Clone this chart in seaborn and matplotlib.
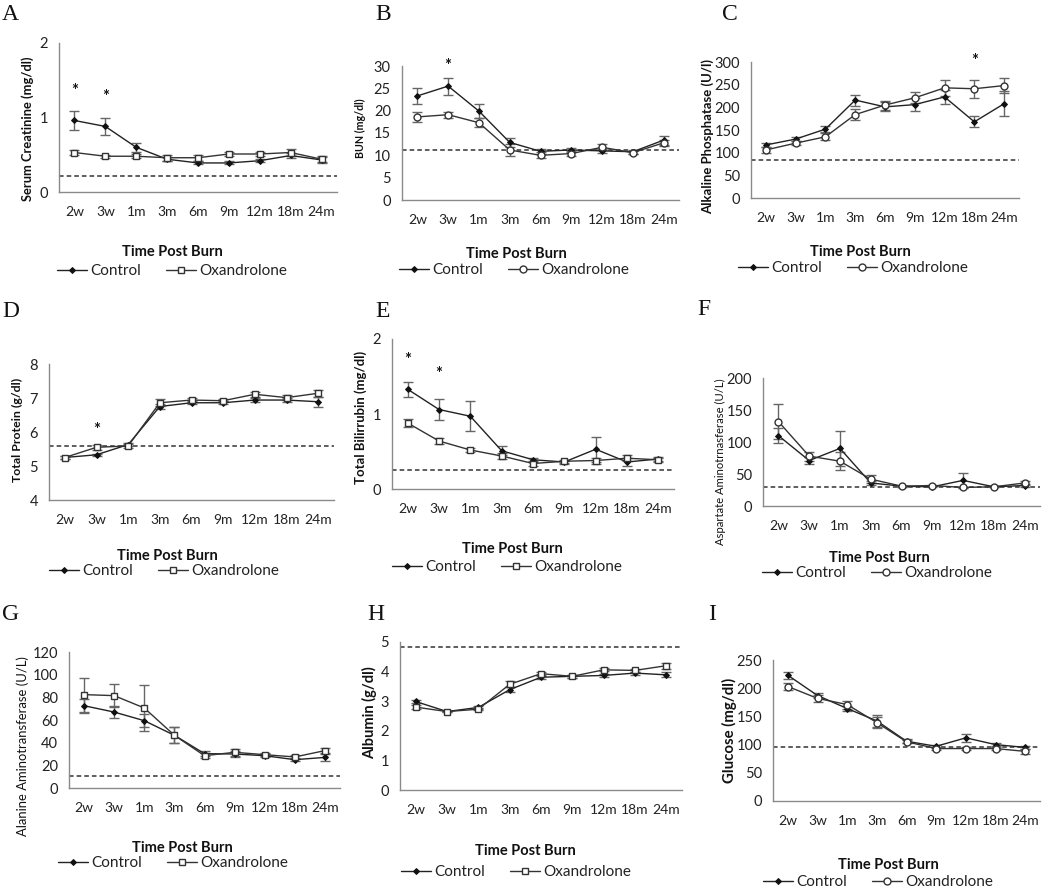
"""Serum chemistry over time post burn - control vs oxandrolone, 3x3 panels."""

import numpy as np
import pandas as pd
import matplotlib
matplotlib.use('Agg')
import matplotlib.pyplot as plt
import seaborn as sns

sns.set_style("white")
plt.rcParams['font.family'] = ['Lato', 'DejaVu Sans']

W, H = 1050, 891

timepoints = ['2w', '3w', '1m', '3m', '6m', '9m', '12m', '18m', '24m']

# A - serum creatinine
creat_ctrl = [0.96, 0.88, 0.60, 0.44, 0.39, 0.39, 0.42, 0.49, 0.43]
creat_ctrl_se = [0.13, 0.12, 0.06, 0.03, 0.02, 0.02, 0.02, 0.03, 0.04]
creat_oxa = [0.53, 0.48, 0.48, 0.46, 0.46, 0.51, 0.51, 0.53, 0.44]
creat_oxa_se = [0.03, 0.02, 0.03, 0.04, 0.04, 0.03, 0.03, 0.05, 0.04]

# B - BUN
bun_ctrl = [23.3, 25.5, 19.9, 12.9, 10.9, 11.2, 11.0, 10.8, 13.4]
bun_ctrl_se = [1.8, 1.9, 1.5, 1.0, 0.5, 0.4, 0.5, 0.4, 1.0]
bun_oxa = [18.6, 19.1, 17.3, 11.2, 10.0, 10.4, 11.8, 10.6, 12.8]
bun_oxa_se = [1.2, 0.7, 1.0, 1.4, 0.7, 0.5, 0.7, 0.4, 0.7]

# C - alkaline phosphatase
alp_ctrl = [117, 130, 152, 216, 201, 206, 223, 168, 208]
alp_ctrl_se = [5, 4, 7, 12, 10, 15, 15, 12, 27]
alp_oxa = [106, 121, 135, 184, 205, 221, 243, 241, 248]
alp_oxa_se = [7, 5, 8, 12, 10, 12, 17, 20, 17]

# D - total protein
prot_ctrl = [5.25, 5.33, 5.63, 6.75, 6.86, 6.86, 6.94, 6.94, 6.89]
prot_ctrl_se = [0.03, 0.03, 0.04, 0.08, 0.05, 0.05, 0.06, 0.07, 0.15]
prot_oxa = [5.25, 5.55, 5.59, 6.86, 6.94, 6.92, 7.11, 7.01, 7.14]
prot_oxa_se = [0.04, 0.07, 0.05, 0.10, 0.06, 0.05, 0.07, 0.07, 0.10]

# E - total bilirubin
bili_ctrl = [1.33, 1.06, 0.97, 0.51, 0.39, 0.36, 0.53, 0.36, 0.40]
bili_ctrl_se = [0.10, 0.14, 0.20, 0.06, 0.03, 0.02, 0.17, 0.05, 0.03]
bili_oxa = [0.88, 0.64, 0.52, 0.44, 0.34, 0.37, 0.38, 0.41, 0.39]
bili_oxa_se = [0.05, 0.04, 0.03, 0.04, 0.03, 0.02, 0.04, 0.04, 0.03]

# F - AST
ast_ctrl = [110, 71, 90, 36, 31, 30, 40, 30, 32]
ast_ctrl_se = [12, 5, 27, 3, 1, 1, 12, 1, 2]
ast_oxa = [132, 78, 70, 42, 31, 32, 29, 30, 36]
ast_oxa_se = [28, 7, 14, 6, 1, 1, 1, 1, 3]

# G - ALT
alt_ctrl = [72.6, 67, 59.4, 46.5, 30.3, 30, 28.5, 25, 27]
alt_ctrl_se = [6, 5, 6, 7, 2, 3, 1.5, 1.5, 3]
alt_oxa = [82.4, 81.5, 70.6, 46.5, 28.5, 31.5, 29.4, 27.4, 33]
alt_oxa_se = [15, 10, 20, 7, 2, 3, 1.5, 1.5, 2]

# H - albumin
alb_ctrl = [2.99, 2.65, 2.79, 3.39, 3.81, 3.84, 3.87, 3.95, 3.89]
alb_ctrl_se = [0.05, 0.03, 0.04, 0.08, 0.05, 0.04, 0.05, 0.05, 0.08]
alb_oxa = [2.80, 2.65, 2.73, 3.57, 3.93, 3.84, 4.06, 4.04, 4.20]
alb_oxa_se = [0.07, 0.03, 0.04, 0.10, 0.05, 0.04, 0.05, 0.05, 0.10]

# I - glucose
glu_ctrl = [223, 187, 164, 142, 106, 97, 112, 100, 95]
glu_ctrl_se = [6, 5, 4, 10, 4, 3, 7, 3, 2]
glu_oxa = [203, 182, 171, 139, 105, 93, 93, 93, 88]
glu_oxa_se = [7, 6, 7, 10, 3, 3, 2, 2, 4]

panel_letters = ['A', 'B', 'C', 'D', 'E', 'F', 'G', 'H', 'I']
y_labels = ['Serum Creatinine (mg/dl)', 'BUN (mg/dl)', 'Alkaline Phosphatase (U/l)',
            'Total Protein (g/dl)', 'Total Bilirrubin (mg/dl)',
            'Aspartate Aminotrnasferase (U/L)', 'Alanine Aminotransferase (U/L)',
            'Albumin (g/dl)', 'Glucose (mg/dl)']
normal_ref = [0.22, 11.2, 83, 5.6, 0.25, 30, 10.3, 4.83, 96]
y_ranges = [(0, 2, 1), (0, 30, 5), (0, 300, 50), (4, 8, 1), (0, 2, 1),
            (0, 200, 50), (0, 120, 20), (0, 5, 1), (0, 250, 50)]
# significance asterisks: (timepoint index, y value)
stars = [[(0, 1.35), (1, 1.28)], [(1, 30.1)], [(7, 303)], [(1, 6.06)],
         [(0, 1.72), (1, 1.53)], [], [], [], []]

series = [
    (creat_ctrl, creat_ctrl_se, creat_oxa, creat_oxa_se),
    (bun_ctrl, bun_ctrl_se, bun_oxa, bun_oxa_se),
    (alp_ctrl, alp_ctrl_se, alp_oxa, alp_oxa_se),
    (prot_ctrl, prot_ctrl_se, prot_oxa, prot_oxa_se),
    (bili_ctrl, bili_ctrl_se, bili_oxa, bili_oxa_se),
    (ast_ctrl, ast_ctrl_se, ast_oxa, ast_oxa_se),
    (alt_ctrl, alt_ctrl_se, alt_oxa, alt_oxa_se),
    (alb_ctrl, alb_ctrl_se, alb_oxa, alb_oxa_se),
    (glu_ctrl, glu_ctrl_se, glu_oxa, glu_oxa_se),
]

# --- layout (pixels) ---
axes_box = [(59, 43, 337, 192), (402, 66, 679, 200), (751, 62, 1019, 198),
            (49, 364, 334, 500), (392, 339, 674, 489), (763, 378, 1040, 506),
            (69, 652, 340, 788), (400, 642, 682, 790), (773, 660, 1040, 801)]
letter_pos = [(2, 20), (375, 20), (722, 20), (2, 317), (375, 317), (697, 315),
              (2, 620), (367, 620), (708, 620)]
ylabel_pos = [(28, 129), (360, 128), (708, 136), (17, 430), (361, 417),
              (720, 462), (23, 746), (370, 713), (729, 730)]
ylabel_len = [145, 60, 155, 105, 133, 167, 180, 93, 105]
ylabel_bold = [True, True, True, True, True, False, False, True, True]
xlabel_pos = [(172, 252), (516, 254), (860, 252), (167, 556), (512, 549),
              (879, 558), (182, 848), (525, 851), (888, 865)]
legend_pos = [(172, 271), (514, 270), (853, 268), (164, 571), (507, 567),
              (877, 573), (173, 863), (516, 872), (878, 882)]
oxa_marker = ['s', 'o', 'o', 's', 's', 'o', 's', 's', 'o']

AXIS_GRAY = '#8a8a8a'
fig = plt.figure(figsize=(W / 100, H / 100), dpi=100)
renderer = fig.canvas.get_renderer()


def fx(px):
    return px / W


def fy(py):
    return 1 - py / H


xs = np.arange(len(timepoints))

for i in range(9):
    x0, yt, x1, yb = axes_box[i]
    ax = fig.add_axes([fx(x0), fy(yb), (x1 - x0) / W, (yb - yt) / H])
    ctrl, ctrl_se, oxa, oxa_se = series[i]
    df = pd.DataFrame({'pos': xs, 'ctrl': ctrl, 'oxa': oxa})

    ax.errorbar(xs, oxa, yerr=oxa_se, fmt='none', ecolor='#666666',
                elinewidth=1, capsize=3.5, capthick=1, zorder=2)
    ax.errorbar(xs, ctrl, yerr=ctrl_se, fmt='none', ecolor='#666666',
                elinewidth=1, capsize=3.5, capthick=1, zorder=2)
    sns.lineplot(data=df, x='pos', y='ctrl', ax=ax, color='#222222', lw=1,
                 marker='D', ms=3, mfc='#111111', mec='#111111',
                 errorbar=None, label='Control', zorder=3)
    sns.lineplot(data=df, x='pos', y='oxa', ax=ax, color='#333333', lw=1,
                 marker=oxa_marker[i], ms=5, mfc='white', mec='#333333',
                 mew=1, errorbar=None, label='Oxandrolone', zorder=4)

    ax.axhline(normal_ref[i], color='#333333', ls=(0, (3, 2)), lw=1.1, zorder=1)
    for (k, yv) in stars[i]:
        ax.text(xs[k], yv, '*', ha='center', va='center', fontsize=12,
                fontweight='bold', color='#111111')

    lo, hi, step = y_ranges[i]
    ax.set_ylim(lo, hi)
    ax.set_yticks(np.arange(lo, hi + step / 2, step))
    ax.set_xlim(-0.5, len(timepoints) - 0.5)
    ax.set_xticks(xs)
    ax.set_xticklabels(timepoints)
    ax.set_xticks(np.arange(-0.5, len(timepoints), 1), minor=True)
    ax.tick_params(axis='x', which='major', length=0, pad=10, labelsize=10,
                   labelcolor='#222222')
    ax.tick_params(axis='x', which='minor', length=5, width=1,
                   color=AXIS_GRAY, direction='out')
    ax.tick_params(axis='y', length=4, width=1, color=AXIS_GRAY,
                   direction='out', pad=4, labelsize=10.5, labelcolor='#222222')
    ax.set_xlabel('')
    ax.set_ylabel('')
    sns.despine(ax=ax)
    for side in ['left', 'bottom']:
        ax.spines[side].set_color(AXIS_GRAY)
        ax.spines[side].set_linewidth(1)

    handles, labels = ax.get_legend_handles_labels()
    lx, ly = legend_pos[i]
    ax.legend(handles, labels, loc='center', bbox_to_anchor=(fx(lx), fy(ly)),
              bbox_transform=fig.transFigure, ncol=2, frameon=False,
              fontsize=11, handlelength=2.0, handletextpad=0.2,
              columnspacing=1.6, borderpad=0, labelcolor='#222222')

    # y label, sized to the reference length
    px, py = ylabel_pos[i]
    yl = fig.text(fx(px), fy(py), y_labels[i], rotation=90, ha='center',
                  va='center', fontsize=9,
                  fontweight='bold' if ylabel_bold[i] else 'normal',
                  color='#111111')
    ext = yl.get_window_extent(renderer)
    yl.set_fontsize(9 * ylabel_len[i] / ext.height)

    tx, ty = xlabel_pos[i]
    fig.text(fx(tx), fy(ty), 'Time Post Burn', ha='center', va='center',
             fontsize=10.5, fontweight='bold', color='#111111')

    lx, ly = letter_pos[i]
    fig.text(fx(lx), fy(ly), panel_letters[i], ha='left', va='baseline',
             fontsize=17, family=['Liberation Serif', 'DejaVu Serif'],
             color='#111111')

fig.savefig('out.png', dpi=100, facecolor='white')
plt.close(fig)
